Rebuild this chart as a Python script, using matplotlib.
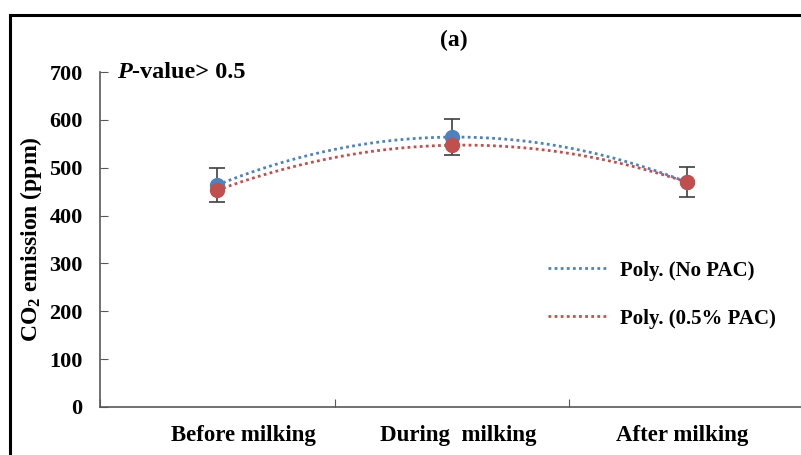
import numpy as np
import matplotlib.pyplot as plt

plt.rcParams['font.family'] = ['Liberation Serif', 'DejaVu Serif']
plt.rcParams['font.weight'] = 'bold'
plt.rcParams['axes.labelweight'] = 'bold'
plt.rcParams['mathtext.default'] = 'regular'

# data
stages = ['Before milking', 'During  milking', 'After milking']
no_pac = [464, 564, 470]
no_pac_err = [35, 38, 31]
pac_05 = [453, 547, 470]

blue = '#4F81BD'
red = '#C0504D'
axis_col = '#595959'

fig = plt.figure(figsize=(8.01, 4.55), dpi=100)
ax = fig.add_axes([100 / 801, 48 / 455, 704 / 801, 335 / 455])

x = np.arange(len(stages))
xs = np.linspace(0, 2, 200)

# polynomial (order 2) trendlines
for vals, col, lab in [(no_pac, blue, 'Poly. (No PAC)'), (pac_05, red, 'Poly. (0.5% PAC)')]:
    coef = np.polyfit(x, vals, 2)
    ax.plot(xs, np.polyval(coef, xs), color=col, lw=2, ls=(0, (1, 1.2)), label=lab, zorder=2)

# markers with error bars
ax.errorbar(x, no_pac, yerr=no_pac_err, fmt='o', color=blue, ms=10, ecolor='#404040',
            elinewidth=1.2, capsize=5.5, capthick=1.2, zorder=3)
ax.plot(x, pac_05, 'o', color=red, ms=10, zorder=4)

ax.set_xlim(-0.5, 2.5)
ax.set_ylim(0, 700)
ax.set_yticks(np.arange(0, 701, 100))
ax.set_xticks([-0.5, 0.5, 1.5, 2.5])
ax.set_xticklabels([])
# category labels sit slightly off the category centres in the original
ax.set_xticks([0.11, 1.025, 1.98], minor=True)
ax.set_xticklabels(stages, minor=True)
ax.tick_params(axis='x', which='minor', length=0, pad=13, labelsize=16.5)
ax.tick_params(axis='x', which='major', direction='in', length=6, color=axis_col)
ax.tick_params(axis='y', direction='in', length=6, color=axis_col, labelsize=16, pad=12.5)

for s in ['top', 'right']:
    ax.spines[s].set_visible(False)
for s in ['left', 'bottom']:
    ax.spines[s].set_color(axis_col)
    ax.spines[s].set_linewidth(1.2)

ax.set_ylabel('CO$_2$ emission (ppm)', fontsize=17, labelpad=4)

leg = ax.legend(loc='upper left', bbox_to_anchor=(0.61, 0.493), frameon=False,
                fontsize=15, handlelength=2.9, labelspacing=1.35, handletextpad=0.55)

# P-value note
t1 = fig.text(117 / 801, 1 - 73 / 455, 'P', fontsize=17.5, style='italic',
              weight='bold', va='center')
ax.annotate('-value> 0.5', xy=(1, 0.5), xycoords=t1, va='center', fontsize=17.5,
            weight='bold', annotation_clip=False)

fig.text(454 / 801, 1 - 40 / 455, '(a)', fontsize=17, weight='bold', ha='center', va='center')

# outer frame (partially visible)
fig.add_artist(plt.Line2D([10 / 801, 10 / 801], [0, 1 - 15 / 455], color='black', lw=2.2,
                          transform=fig.transFigure))
fig.add_artist(plt.Line2D([10 / 801, 1], [1 - 15 / 455, 1 - 15 / 455], color='black', lw=2.2,
                          transform=fig.transFigure))

fig.savefig('out.png', dpi=100)
